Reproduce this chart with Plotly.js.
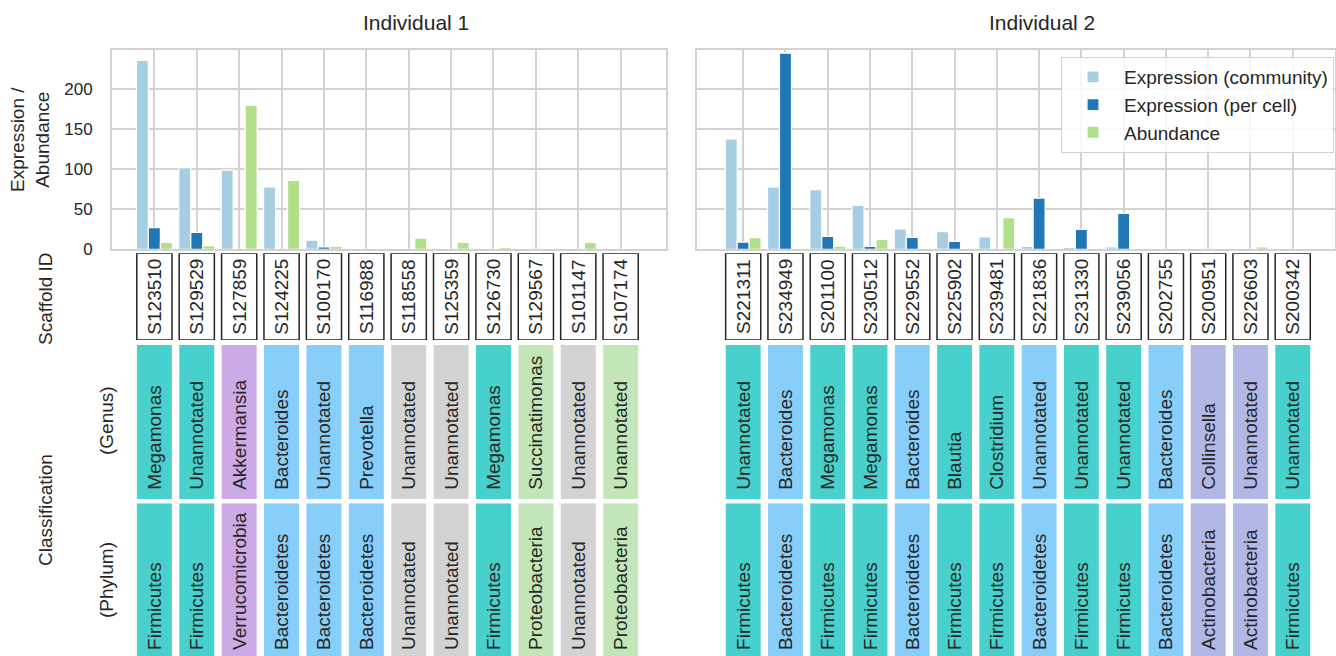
<!DOCTYPE html>
<html>
<head>
<meta charset="utf-8">
<script src="https://cdn.plot.ly/plotly-3.0.1.min.js"></script>
<style>html,body{margin:0;padding:0;background:#fff;}#chart{width:1336px;height:656px;}</style>
</head>
<body>
<div id="chart"></div>
<script>
// ---------- data ----------
const seriesNames = ['Expression (community)', 'Expression (per cell)', 'Abundance'];
const panelTitles = ['Individual 1', 'Individual 2'];

const ind1Ids = ['S123510','S129529','S127859','S124225','S100170','S116988','S118558','S125359','S126730','S129567','S101147','S107174'];
const ind1Community = [236, 102, 99, 78, 11.5, 0, 0, 0, 0, 0, 0, 0];
const ind1PerCell = [27, 21, 0, 0, 3, 0, 0, 0, 0, 0, 0, 0];
const ind1Abundance = [8.5, 4.5, 180, 86, 3.5, 0, 14, 8.5, 2.5, 0, 8.5, 0];
const ind1Genus = ['Megamonas','Unannotated','Akkermansia','Bacteroides','Unannotated','Prevotella','Unannotated','Unannotated','Megamonas','Succinatimonas','Unannotated','Unannotated'];
const ind1Phylum = ['Firmicutes','Firmicutes','Verrucomicrobia','Bacteroidetes','Bacteroidetes','Bacteroidetes','Unannotated','Unannotated','Firmicutes','Proteobacteria','Unannotated','Proteobacteria'];

const ind2Ids = ['S221311','S234949','S201100','S230512','S229552','S225902','S239481','S221836','S231330','S239056','S202755','S200951','S226603','S200342'];
const ind2Community = [138, 78, 74.5, 55, 25.5, 22, 15.5, 3.5, 2.5, 3, 0, 0, 0, 0];
const ind2PerCell = [9, 245, 16, 3.5, 15, 10, 0, 64, 25, 45, 0, 0, 0, 0];
const ind2Abundance = [14.5, 0, 4, 12.5, 0, 1.5, 39.5, 0, 0, 0, 0, 0, 3, 0];
const ind2Genus = ['Unannotated','Bacteroides','Megamonas','Megamonas','Bacteroides','Blautia','Clostridium','Unannotated','Unannotated','Unannotated','Bacteroides','Collinsella','Unannotated','Unannotated'];
const ind2Phylum = ['Firmicutes','Bacteroidetes','Firmicutes','Firmicutes','Bacteroidetes','Firmicutes','Firmicutes','Bacteroidetes','Firmicutes','Firmicutes','Bacteroidetes','Actinobacteria','Actinobacteria','Firmicutes'];

const yTickValues = [0, 50, 100, 150, 200];

// ---------- styles ----------
const W = 1336, H = 656;
const FONT = 'Liberation Sans, Arial, sans-serif';
const TXT = '#262626';
const GRID = '#d2d2d2';
const seriesColors = ['#a6cee3', '#1f78b4', '#b2df8a'];
const phylumColors = {
  'Firmicutes': '#48d1cc',
  'Bacteroidetes': '#87cefa',
  'Verrucomicrobia': '#cda9e6',
  'Unannotated': '#d3d3d3',
  'Proteobacteria': '#c3e6b9',
  'Actinobacteria': '#b2b7e6'
};
const px = v => v / W;
const py = v => 1 - v / H;

const panels = [
  {ids: ind1Ids, vals: [ind1Community, ind1PerCell, ind1Abundance], genus: ind1Genus, phylum: ind1Phylum,
   dom: [px(112), px(666)], range: [-1, 12.07], xa: ['x', 'x3', 'x4', 'x5'], ya: ['y', 'y3', 'y4', 'y5'], legend: false},
  {ids: ind2Ids, vals: [ind2Community, ind2PerCell, ind2Abundance], genus: ind2Genus, phylum: ind2Phylum,
   dom: [px(696.7), px(1335)], range: [-1.1, 14], xa: ['x2', 'x6', 'x7', 'x8'], ya: ['y2', 'y6', 'y7', 'y8'], legend: true}
];

const rowDomains = {
  bars: [py(249.3), py(50)],
  id: [py(340), py(253.3)],
  genus: [py(499), py(345)],
  phylum: [0, py(503.3)]
};
// text lift inside the coloured cells (fraction of the cell height)
const textLift = {genus: 0.04, phylum: 0.02};

const traces = [];
const layout = {
  width: W, height: H,
  margin: {l: 0, r: 0, t: 0, b: 0},
  paper_bgcolor: '#ffffff', plot_bgcolor: '#ffffff',
  font: {family: FONT, color: TXT, size: 17},
  barmode: 'group', bargap: 0.15, bargroupgap: 0,
  showlegend: true,
  legend: {x: px(1334), y: py(57), xanchor: 'right', yanchor: 'top', itemwidth: 52,
           bgcolor: 'rgba(255,255,255,0.85)', bordercolor: GRID, borderwidth: 1,
           font: {size: 19, family: FONT, color: TXT}, tracegroupgap: 0},
  annotations: [], shapes: []
};

function axName(a) { return a.replace('x', 'xaxis').replace('y', 'yaxis'); }

function cellTraces(p, labels, xa, ya, key) {
  traces.push({
    type: 'bar', x: p.ids, y: p.ids.map(() => 1), xaxis: xa, yaxis: ya, showlegend: false,
    offsetgroup: 'cell', width: 0.825,
    marker: {color: p.phylum.map(ph => phylumColors[ph]), line: {width: 0}}, hoverinfo: 'skip'
  });
  const lift = textLift[key];
  traces.push({
    type: 'bar', x: p.ids, y: p.ids.map(() => 1 - lift), base: p.ids.map(() => lift),
    xaxis: xa, yaxis: ya, showlegend: false, offsetgroup: 'cell', width: 0.825,
    marker: {color: 'rgba(0,0,0,0)', line: {width: 0}},
    text: labels, textposition: 'inside', insidetextanchor: 'start', textangle: -90,
    constraintext: 'none', insidetextfont: {size: 19, color: TXT, family: FONT}, hoverinfo: 'skip'
  });
}

panels.forEach((p, pi) => {
  const [xb, xi, xg, xp] = p.xa;
  const [yb, yi, yg, yp] = p.ya;
  // bar traces
  p.vals.forEach((v, si) => {
    traces.push({
      type: 'bar', x: p.ids, y: v, name: seriesNames[si],
      xaxis: xb, yaxis: yb, showlegend: p.legend,
      marker: {color: seriesColors[si], line: {color: '#ffffff', width: 1.2}},
      hoverinfo: 'skip'
    });
  });
  // scaffold id boxes
  traces.push({
    type: 'bar', x: p.ids, y: p.ids.map(() => 1), xaxis: xi, yaxis: yi, showlegend: false,
    width: 0.83, marker: {color: '#ffffff', line: {color: '#262626', width: 1.5}},
    text: p.ids, textposition: 'inside', insidetextanchor: 'middle', textangle: -90,
    constraintext: 'none', insidetextfont: {size: 19, color: TXT, family: FONT}, hoverinfo: 'skip'
  });
  cellTraces(p, p.genus, xg, yg, 'genus');
  cellTraces(p, p.phylum, xp, yp, 'phylum');

  // axes
  layout[axName(xb)] = {domain: p.dom, anchor: yb, type: 'category', range: p.range,
    showgrid: true, gridcolor: GRID, gridwidth: 2, showline: true, mirror: true,
    linecolor: GRID, linewidth: 2, showticklabels: false, ticks: '', zeroline: false, fixedrange: true};
  layout[axName(yb)] = {domain: rowDomains.bars, anchor: xb, range: [0, 249],
    tickvals: yTickValues, showgrid: true, gridcolor: GRID, gridwidth: 2,
    showline: true, mirror: true, linecolor: GRID, linewidth: 2, zeroline: false,
    showticklabels: pi === 0, ticks: '', ticklabelstandoff: 14,
    tickfont: {size: 17, color: TXT, family: FONT}, fixedrange: true};
  const rows = [[xi, yi, 'id'], [xg, yg, 'genus'], [xp, yp, 'phylum']];
  rows.forEach(([xa, ya, key]) => {
    layout[axName(xa)] = {domain: p.dom, anchor: ya, type: 'category', range: p.range,
      categoryorder: 'array', categoryarray: p.ids,
      showgrid: false, showline: false, showticklabels: false, ticks: '', zeroline: false, fixedrange: true};
    layout[axName(ya)] = {domain: rowDomains[key], anchor: xa, range: [0, 1],
      showgrid: false, showline: false, showticklabels: false, ticks: '', zeroline: false, fixedrange: true};
  });
});

// labels
function ann(text, x, y, size, angle) {
  layout.annotations.push({text: text, xref: 'paper', yref: 'paper', x: px(x), y: py(y),
    xanchor: 'center', yanchor: 'middle', showarrow: false, textangle: angle || 0,
    font: {size: size, family: FONT, color: TXT}});
}
ann(panelTitles[0], 416, 23, 21, 0);
ann(panelTitles[1], 1042, 23, 21, 0);
ann('Expression /<br>Abundance', 30, 140, 19, -90);
ann('Scaffold ID', 45, 299, 19, -90);
ann('Classification', 45, 510, 19, -90);
ann('(Genus)', 106, 421, 19, -90);
ann('(Phylum)', 106, 580, 19, -90);

Plotly.newPlot('chart', traces, layout, {displayModeBar: false, staticPlot: true});
</script>
</body>
</html>
